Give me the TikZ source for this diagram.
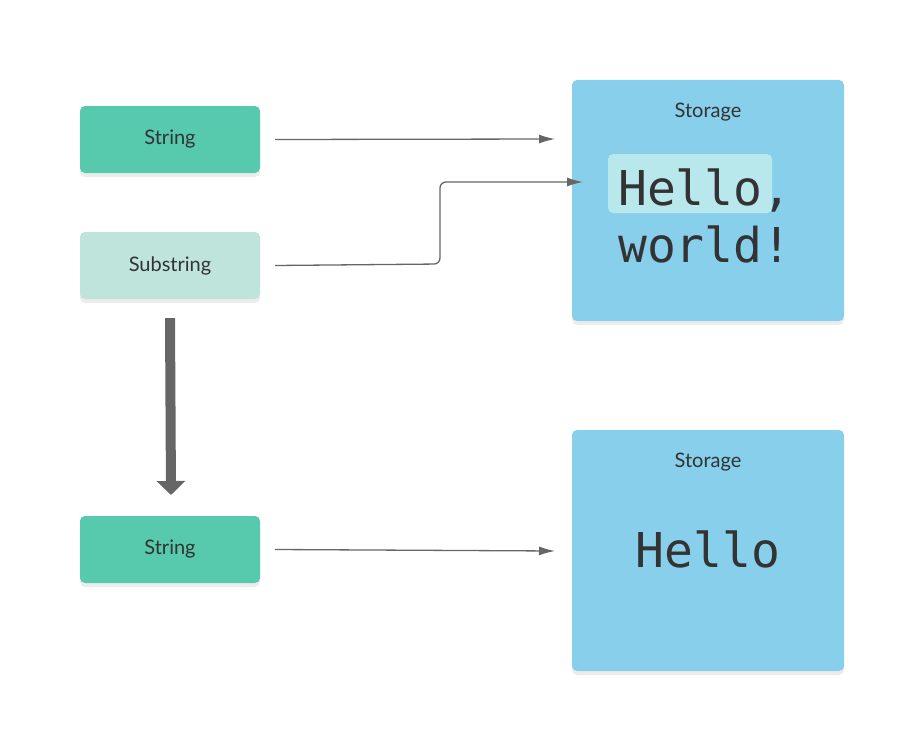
\documentclass[tikz,border=0pt]{standalone}
\usepackage{fontspec}
\setmainfont{Lato}
\newfontfamily\codefont{DejaVu Sans Mono}
\usetikzlibrary{shadows,arrows.meta}
\definecolor{strgreen}{HTML}{57C9AD}
\definecolor{subgreen}{HTML}{BEE4DC}
\definecolor{storeblue}{HTML}{87CFEB}
\definecolor{hilite}{HTML}{B8E8EC}
\definecolor{linegray}{HTML}{666666}
\definecolor{txt}{HTML}{333333}
\tikzset{
  box/.style={rounded corners=5pt, minimum width=180pt, minimum height=67pt,
    inner sep=0pt, text=txt, font=\fontsize{20}{24}\selectfont,
    drop shadow={opacity=0.15, shadow xshift=0pt, shadow yshift=-4pt}},
  storage/.style={box, fill=storeblue, minimum width=272pt, minimum height=241pt},
  link/.style={linegray, line width=1.3pt, -{Latex[length=16pt,width=9pt]}},
  code/.style={text=txt, font=\codefont\fontsize{48}{57}\selectfont, inner sep=0pt}
}
\begin{document}
\begin{tikzpicture}[x=1pt,y=-1pt]
  \useasboundingbox (0,0) rectangle (924,752);
  % boxes on the left
  \node[box, fill=strgreen] (str) at (170,139.5) {String};
  \node[box, fill=subgreen] (sub) at (170,265.5) {Substring};
  \node[box, fill=strgreen] (newstr) at (170,549.5) {String};
  % storages
  \node[storage] (store) at (708,200.5) {};
  \node[storage] (newstore) at (708,550.5) {};
  \node[text=txt, font=\fontsize{20}{24}\selectfont] (storelbl) at (708,112) {Storage};
  \node[text=txt, font=\fontsize{20}{24}\selectfont] (newstorelbl) at (708,462) {Storage};
  % text in storage
  \fill[hilite, rounded corners=5pt] (608,154) rectangle (772,213);
  \node[code, anchor=base west] (hello) at (618,205) {Hello,};
  \node[code, anchor=base west] (world) at (618,262) {world!};
  \node[code, anchor=base] (hello2) at (708,567) {Hello};
  \coordinate (hl) at (583,182);
  % connectors
  \draw[link] (str.east) ++(15,0) -- (555,139);
  \draw[link, rounded corners=6pt] (sub.east) ++(15,0) -- (440,264) -- (440,182) -- (hl);
  \draw[link] (newstr.east) ++(15,0) -- (555,551);
  \draw[linegray, line width=10pt, -{Triangle[length=14pt,width=28pt]}]
    (sub.south) ++(0,19) -- (171,495);
\end{tikzpicture}
\end{document}
